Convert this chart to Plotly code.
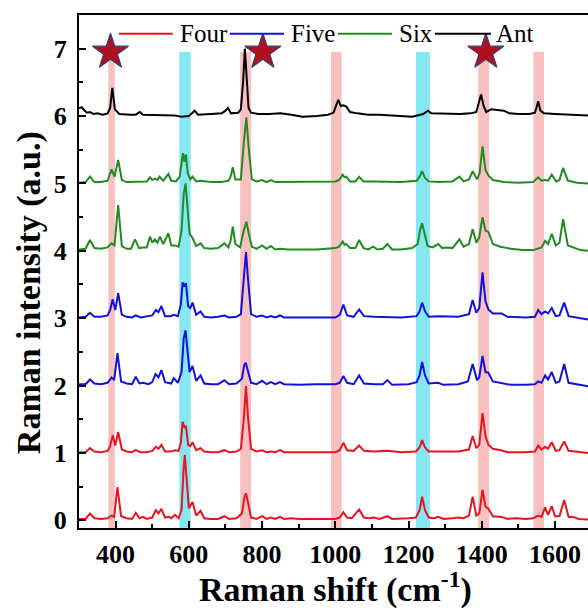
import plotly.graph_objects as go

# ---------------- data (Raman shift cm-1, intensity a.u. incl. vertical offset) ----------------
four_low = [(300,0.02),(318,0.02),(330,0.10),(342,0.03),(360,0.02),(378,0.03),(389,0.07),(396,0.05),(405,0.49),(415,0.06),
            (430,0.03),(445,0.02),(455,0.11),(465,0.03),(475,0.05),(485,0.02),(500,0.04),(510,0.15),(517,0.10),(525,0.17),
            (535,0.04),(545,0.05),(552,0.03),(562,0.08),(572,0.03),(580,0.15),(586,0.80),(589,0.97),(594,0.60),(600,0.18),
            (610,0.27),(620,0.07),(632,0.14),(642,0.03),(660,0.02),(680,0.02),(697,0.06),(710,0.02),(730,0.03),(745,0.10),
            (752,0.35),(756,0.40),(762,0.25),(770,0.04),(785,0.02),(800,0.06),(812,0.02),(824,0.04),(836,0.02),(849,0.05),
            (860,0.02),(880,0.03),(900,0.02),(920,0.02),(940,0.03),(960,0.02),(980,0.03),(1000,0.02),(1012,0.04),(1022,0.12),
            (1032,0.04),(1045,0.03),(1065,0.16),(1078,0.04),(1090,0.03),(1106,0.04),(1120,0.02),(1142,0.06),(1155,0.02),
            (1180,0.02),(1200,0.03),(1220,0.04),(1230,0.15),(1237,0.35),(1245,0.15),(1255,0.04),(1270,0.03),(1281,0.05),
            (1295,0.02),(1320,0.03),(1336,0.04),(1350,0.03),(1365,0.07),(1375,0.35),(1385,0.07),(1393,0.10),(1402,0.45),
            (1410,0.20),(1418,0.17),(1430,0.06),(1454,0.05),(1470,0.02),(1495,0.03),(1520,0.02),(1540,0.03),(1554,0.07),
            (1563,0.05),(1573,0.19),(1581,0.08),(1591,0.21),(1600,0.06),(1612,0.06),(1625,0.30),(1637,0.05),(1649,0.05),
            (1665,0.02),(1690,0.01)]

four_high = [(300,1.01),(318,1.01),(330,1.07),(342,1.02),(360,1.01),(378,1.03),(385,1.10),(392,1.26),(399,1.11),(407,1.31),
             (417,1.05),(430,1.02),(445,1.01),(455,1.04),(468,1.01),(485,1.01),(500,1.03),(510,1.09),(517,1.06),(525,1.12),
             (535,1.02),(550,1.02),(562,1.04),(572,1.03),(578,1.15),(583,1.46),(588,1.38),(592,1.40),(598,1.12),(604,1.10),
             (610,1.16),(620,1.04),(632,1.07),(642,1.02),(660,1.01),(680,1.01),(697,1.04),(710,1.01),(730,1.02),(742,1.06),
             (750,1.50),(756,1.99),(762,1.50),(770,1.06),(785,1.02),(800,1.04),(812,1.01),(824,1.02),(836,1.01),(849,1.04),
             (860,1.01),(900,1.01),(950,1.02),(1000,1.01),(1012,1.04),(1022,1.15),(1032,1.04),(1050,1.03),(1065,1.11),
             (1078,1.03),(1106,1.02),(1142,1.03),(1180,1.01),(1220,1.02),(1230,1.08),(1237,1.19),(1245,1.08),(1255,1.02),
             (1281,1.02),(1336,1.02),(1365,1.05),(1375,1.25),(1385,1.07),(1393,1.12),(1402,1.59),(1410,1.25),(1418,1.12),
             (1430,1.06),(1452,1.04),(1470,1.01),(1520,1.01),(1545,1.02),(1554,1.11),(1563,1.05),(1573,1.09),(1581,1.06),
             (1591,1.16),(1602,1.03),(1612,1.04),(1625,1.17),(1637,1.03),(1690,1.00)]

five_low = [(300,2.02),(318,2.02),(330,2.09),(342,2.03),(360,2.02),(378,2.04),(389,2.12),(396,2.08),(405,2.48),(415,2.06),
            (430,2.03),(445,2.02),(455,2.13),(465,2.03),(475,2.04),(490,2.02),(500,2.05),(509,2.17),(517,2.12),(525,2.23),
            (535,2.05),(545,2.04),(552,2.03),(559,2.11),(570,2.04),(580,2.20),(586,2.70),(591,2.82),(596,2.50),(602,2.20),
            (610,2.29),(620,2.07),(632,2.15),(642,2.03),(660,2.02),(680,2.02),(697,2.08),(710,2.02),(730,2.03),(745,2.10),
            (751,2.30),(755,2.34),(762,2.20),(770,2.04),(785,2.02),(800,2.07),(812,2.02),(824,2.05),(836,2.02),(849,2.05),
            (860,2.02),(900,2.01),(950,2.02),(1000,2.02),(1012,2.04),(1022,2.14),(1032,2.04),(1050,2.02),(1065,2.15),
            (1078,2.03),(1106,2.02),(1130,2.02),(1142,2.08),(1155,2.01),(1200,2.02),(1222,2.05),(1230,2.15),(1237,2.35),
            (1245,2.15),(1255,2.03),(1281,2.04),(1295,2.01),(1336,2.02),(1362,2.06),(1375,2.32),(1387,2.08),(1393,2.12),
            (1402,2.44),(1410,2.20),(1418,2.19),(1430,2.06),(1454,2.04),(1480,2.01),(1520,2.01),(1545,2.02),(1554,2.06),
            (1563,2.04),(1573,2.15),(1581,2.09),(1591,2.20),(1602,2.04),(1612,2.06),(1625,2.32),(1637,2.04),(1649,2.03),
            (1690,1.99)]

five_high = [(300,3.01),(318,3.02),(330,3.08),(342,3.02),(360,3.02),(378,3.04),(385,3.12),(392,3.28),(399,3.12),(407,3.37),
             (417,3.05),(430,3.02),(445,3.01),(455,3.04),(468,3.01),(485,3.02),(500,3.04),(510,3.12),(517,3.09),(525,3.18),
             (535,3.03),(550,3.03),(559,3.05),(570,3.03),(578,3.20),(583,3.53),(588,3.47),(592,3.52),(598,3.18),(604,3.15),
             (610,3.23),(620,3.05),(632,3.10),(642,3.02),(660,3.01),(680,3.02),(697,3.04),(710,3.01),(730,3.02),(742,3.06),
             (750,3.60),(756,3.98),(762,3.55),(770,3.06),(785,3.02),(800,3.04),(812,3.01),(824,3.03),(836,3.01),(849,3.04),
             (860,3.01),(900,3.01),(950,3.01),(1000,3.01),(1012,3.05),(1022,3.20),(1032,3.04),(1050,3.02),(1065,3.13),
             (1078,3.03),(1106,3.02),(1142,3.02),(1180,3.01),(1222,3.03),(1230,3.10),(1237,3.23),(1245,3.10),(1255,3.02),
             (1281,3.03),(1336,3.02),(1365,3.06),(1375,3.27),(1385,3.08),(1393,3.15),(1402,3.68),(1410,3.25),(1418,3.13),
             (1430,3.07),(1454,3.07),(1470,3.02),(1520,3.01),(1545,3.02),(1554,3.12),(1563,3.06),(1573,3.10),(1581,3.07),
             (1591,3.15),(1602,3.03),(1612,3.04),(1625,3.23),(1637,3.03),(1690,2.98)]

six_low = [(300,4.02),(318,4.03),(330,4.16),(342,4.04),(360,4.03),(378,4.05),(389,4.11),(397,4.08),(407,4.68),(417,4.07),
           (430,4.03),(442,4.03),(453,4.17),(464,4.04),(475,4.05),(485,4.05),(494,4.21),(500,4.12),(507,4.17),(514,4.12),
           (521,4.21),(530,4.10),(544,4.26),(552,4.08),(562,4.08),(572,4.06),(580,4.30),(586,4.85),(591,5.00),(596,4.70),
           (602,4.25),(610,4.19),(620,4.07),(632,4.11),(642,4.04),(660,4.03),(680,4.04),(697,4.11),(708,4.05),(714,4.15),
           (720,4.36),(727,4.10),(740,4.05),(750,4.30),(757,4.43),(764,4.25),(772,4.06),(785,4.03),(800,4.08),(812,4.03),
           (824,4.07),(836,4.02),(849,4.03),(870,4.02),(900,4.02),(950,4.02),(1000,4.04),(1010,4.06),(1020,4.14),(1025,4.09),
           (1030,4.10),(1040,4.04),(1055,4.04),(1065,4.16),(1077,4.04),(1090,4.02),(1103,4.06),(1115,4.02),(1130,4.03),
           (1142,4.10),(1155,4.02),(1180,4.02),(1210,4.04),(1225,4.10),(1231,4.30),(1237,4.41),(1244,4.25),(1252,4.07),
           (1265,4.05),(1281,4.10),(1292,4.04),(1303,4.05),(1320,4.04),(1339,4.17),(1350,4.06),(1365,4.10),(1375,4.32),
           (1385,4.12),(1393,4.20),(1402,4.50),(1410,4.30),(1418,4.28),(1430,4.10),(1450,4.06),(1480,4.03),(1510,4.01),
           (1540,4.01),(1554,4.04),(1563,4.05),(1573,4.15),(1581,4.10),(1591,4.25),(1602,4.08),(1612,4.12),(1622,4.47),
           (1635,4.08),(1649,4.05),(1670,4.01),(1690,4.00)]

six_high = [(300,5.01),(318,5.02),(330,5.10),(342,5.02),(360,5.02),(378,5.04),(389,5.21),(397,5.10),(407,5.35),(417,5.05),
            (430,5.02),(445,5.02),(455,5.03),(475,5.02),(485,5.03),(494,5.09),(500,5.05),(507,5.07),(514,5.05),(520,5.10),
            (530,5.04),(544,5.14),(552,5.04),(565,5.03),(575,5.10),(580,5.30),(584,5.45),(588,5.32),(592,5.43),(597,5.15),
            (604,5.06),(610,5.10),(620,5.03),(632,5.04),(660,5.02),(690,5.02),(708,5.04),(714,5.10),(720,5.24),(727,5.06),
            (742,5.06),(750,5.60),(757,5.98),(763,5.55),(772,5.06),(785,5.03),(800,5.05),(812,5.02),(824,5.05),(836,5.02),
            (849,5.02),(900,5.02),(950,5.02),(1000,5.03),(1010,5.05),(1020,5.13),(1025,5.09),(1030,5.10),(1040,5.03),
            (1055,5.03),(1065,5.10),(1077,5.03),(1103,5.03),(1142,5.03),(1180,5.02),(1222,5.04),(1230,5.10),(1237,5.18),
            (1245,5.08),(1255,5.03),(1281,5.02),(1320,5.03),(1339,5.10),(1350,5.03),(1365,5.06),(1375,5.18),(1387,5.06),
            (1394,5.15),(1402,5.55),(1410,5.20),(1418,5.12),(1430,5.05),(1460,5.02),(1500,5.01),(1540,5.02),(1554,5.09),
            (1563,5.04),(1573,5.05),(1581,5.04),(1591,5.13),(1603,5.03),(1612,5.05),(1622,5.23),(1635,5.04),(1660,5.01),
            (1690,5.00)]

ant = [(300,6.12),(308,6.13),(315,6.08),(322,6.05),(330,6.06),(340,6.03),(350,6.04),(365,6.02),(378,6.04),(385,6.12),
       (391,6.42),(398,6.10),(410,6.03),(425,6.02),(440,6.02),(455,6.02),(466,6.06),(475,6.02),(500,6.02),(530,6.02),
       (560,6.01),(580,5.99),(600,6.00),(616,6.08),(625,6.02),(660,6.03),(690,6.04),(700,6.08),(707,6.12),(715,6.04),
       (735,6.05),(742,6.10),(748,6.50),(753,7.00),(758,6.55),(763,6.12),(770,6.05),(790,6.03),(820,6.03),(850,6.04),
       (880,6.02),(910,5.99),(950,6.00),(980,6.02),(995,6.05),(1002,6.15),(1008,6.24),(1015,6.15),(1022,6.16),(1030,6.14),
       (1040,6.06),(1060,6.04),(1090,6.02),(1120,6.02),(1150,6.01),(1180,5.99),(1210,5.99),(1240,6.03),(1253,6.08),
       (1262,6.04),(1300,6.03),(1340,6.03),(1370,6.04),(1385,6.06),(1392,6.20),(1398,6.32),(1405,6.15),(1412,6.06),
       (1425,6.10),(1440,6.09),(1460,6.08),(1475,6.04),(1500,6.03),(1530,6.03),(1545,6.05),(1549,6.12),(1554,6.22),
       (1560,6.08),(1570,6.04),(1600,6.03),(1640,6.02),(1690,6.01)]

series_names = ["Four", "Four", "Five", "Five", "Six", "Six", "Ant"]
series_data = [four_low, four_high, five_low, five_high, six_low, six_high, ant]
series_colors = {"Four": "#E8141E", "Five": "#1212D6", "Six": "#218A21", "Ant": "#000000"}

# highlighted bands (cm-1)
pink_bands = [(380, 398), (740, 770), (988, 1017), (1390, 1420), (1541, 1570)]
cyan_bands = [(574, 605), (1220, 1258)]
band_top = 6.95

# star markers
star_x = [386, 802, 1411]
star_y = [6.95, 6.95, 6.95]

legend_names = ["Four", "Five", "Six", "Ant"]
legend_line_x = [(409, 556), (712, 860), (1007, 1155), (1272, 1425)]
legend_text_x = [570, 873, 1168, 1434]

x_tickvals = [400, 600, 800, 1000, 1200, 1400, 1600]
y_tickvals = [0, 1, 2, 3, 4, 5, 6, 7]

x_range = [300, 1690]
y_range = [-0.115, 7.5]

# ---------------- figure ----------------
fig = go.Figure()

for name, data in zip(series_names, series_data):
    xs = [p[0] for p in data]
    ys = [p[1] for p in data]
    fig.add_trace(go.Scatter(x=xs, y=ys, mode="lines", name=name, showlegend=False,
                             line=dict(color=series_colors[name], width=2)))

fig.add_trace(go.Scatter(x=star_x, y=star_y, mode="markers", showlegend=False,
                         marker=dict(symbol="star", size=27, color="#B0101E",
                                     line=dict(color="#3C3C7A", width=1.2))))

shapes = []
for (a, b) in pink_bands:
    shapes.append(dict(type="rect", xref="x", yref="y", x0=a, x1=b, y0=y_range[0], y1=band_top,
                       fillcolor="#F8C0C0", line=dict(width=0), layer="below"))
for (a, b) in cyan_bands:
    shapes.append(dict(type="rect", xref="x", yref="y", x0=a, x1=b, y0=y_range[0], y1=band_top,
                       fillcolor="#86E6F2", line=dict(width=0), layer="below"))

legend_y = 0.9636
annotations = []
for name, (a, b), tx in zip(legend_names, legend_line_x, legend_text_x):
    shapes.append(dict(type="line", xref="x", yref="paper", x0=a, x1=b, y0=legend_y, y1=legend_y,
                       line=dict(color=series_colors[name], width=2)))
    annotations.append(dict(x=tx, y=legend_y, xref="x", yref="paper", text=name, showarrow=False,
                            xanchor="left", yanchor="middle",
                            font=dict(family="Liberation Serif", size=25, color="black")))

annotations.append(dict(x=0.503, y=-0.116, xref="paper", yref="paper",
                        text="<b>Raman shift (cm<sup>-1</sup>)</b>", showarrow=False,
                        xanchor="center", yanchor="middle",
                        font=dict(family="Liberation Serif", size=34, color="black")))
annotations.append(dict(x=-0.098, y=0.458, xref="paper", yref="paper",
                        text="<b>Raman intensity (a.u.)</b>", showarrow=False, textangle=-90,
                        xanchor="center", yanchor="middle",
                        font=dict(family="Liberation Serif", size=34, color="black")))

tickfont = dict(family="Liberation Serif", size=26, color="black", weight=700)

fig.update_layout(
    width=588, height=608,
    margin=dict(l=79, r=0, t=15, b=80),
    plot_bgcolor="white", paper_bgcolor="white",
    shapes=shapes, annotations=annotations,
    showlegend=False,
    xaxis=dict(range=x_range, tickvals=x_tickvals, ticktext=[f"<b>{v}</b>" for v in x_tickvals],
               ticks="inside", ticklen=7, tickwidth=2,
               tickcolor="black", showline=True, linewidth=2, linecolor="black", mirror=True,
               showgrid=False, zeroline=False, tickfont=tickfont, ticklabelstandoff=2,
               minor=dict(dtick=100, tick0=0, ticks="inside", ticklen=4, tickwidth=2, tickcolor="black")),
    yaxis=dict(range=y_range, tickvals=y_tickvals, ticktext=[f"<b>{v}</b>" for v in y_tickvals],
               ticks="inside", ticklen=7, tickwidth=2,
               tickcolor="black", showline=True, linewidth=2, linecolor="black", mirror=False,
               showgrid=False, zeroline=False, tickfont=tickfont, ticklabelstandoff=5,
               minor=dict(dtick=0.5, tick0=0, ticks="inside", ticklen=4, tickwidth=2, tickcolor="black")),
)

fig.write_html("out.html")
